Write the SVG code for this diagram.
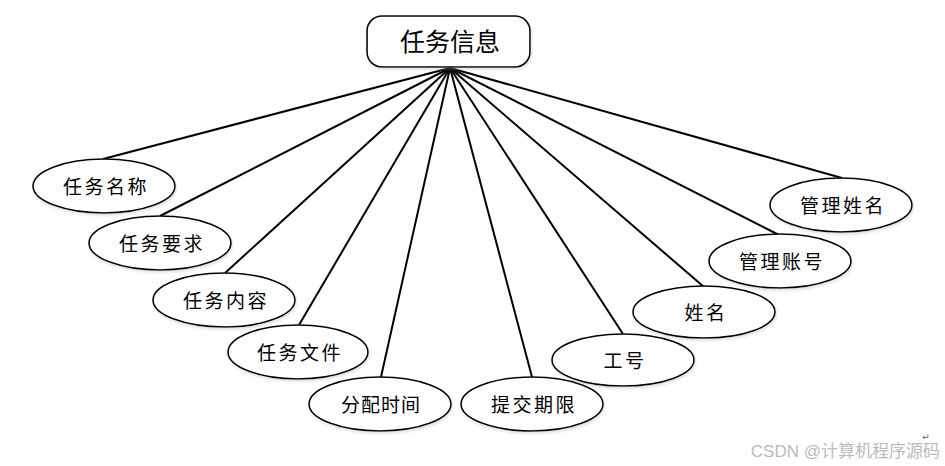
<svg xmlns="http://www.w3.org/2000/svg" width="945" height="466" viewBox="0 0 945 466">
<defs>
<style>
.n{fill:#fff;stroke:#000;stroke-width:1.6}
.t{font-family:"Liberation Serif","Noto Sans CJK SC",serif;font-size:19px;fill:#000;text-anchor:middle;dominant-baseline:central;letter-spacing:2.5px}
.c line{stroke:#000;stroke-width:2}
</style>
<filter id="sh" x="-10%" y="-10%" width="120%" height="130%"><feDropShadow dx="1" dy="2" stdDeviation="1.5" flood-color="#9ab" flood-opacity="0.35"/></filter>
</defs>
<rect width="945" height="466" fill="#fff"/>
<g class="c" id="connectors">
<line x1="450" y1="68" x2="103" y2="159"/>
<line x1="450" y1="68" x2="160" y2="216"/>
<line x1="450" y1="68" x2="225" y2="273"/>
<line x1="450" y1="68" x2="299" y2="325"/>
<line x1="450" y1="68" x2="381" y2="377"/>
<line x1="450" y1="68" x2="532" y2="377"/>
<line x1="450" y1="68" x2="623" y2="334"/>
<line x1="450" y1="68" x2="704" y2="287"/>
<line x1="450" y1="68" x2="779" y2="235"/>
<line x1="450" y1="68" x2="842" y2="178"/>
</g>
<g id="root"><rect class="n" filter="url(#sh)" x="367" y="16" width="163" height="51" rx="15"/><text class="t" x="450" y="42" style="font-size:25px;letter-spacing:0">任务信息</text></g>
<g id="a1"><ellipse class="n" filter="url(#sh)" cx="104" cy="186" rx="71" ry="27"/><text class="t" x="106" y="187">任务名称</text></g>
<g id="a2"><ellipse class="n" filter="url(#sh)" cx="160" cy="243" rx="71" ry="27"/><text class="t" x="162" y="244">任务要求</text></g>
<g id="a3"><ellipse class="n" filter="url(#sh)" cx="224" cy="300" rx="71" ry="27"/><text class="t" x="226" y="301">任务内容</text></g>
<g id="a4"><ellipse class="n" filter="url(#sh)" cx="298" cy="352" rx="70" ry="27"/><text class="t" x="300" y="353">任务文件</text></g>
<g id="a5"><ellipse class="n" filter="url(#sh)" cx="380" cy="404" rx="71" ry="27"/><text class="t" x="381" y="405" style="letter-spacing:1px">分配时间</text></g>
<g id="a6"><ellipse class="n" filter="url(#sh)" cx="532" cy="404" rx="71" ry="27"/><text class="t" x="534" y="405">提交期限</text></g>
<g id="a7"><ellipse class="n" filter="url(#sh)" cx="623" cy="360" rx="71" ry="26"/><text class="t" x="625" y="361">工号</text></g>
<g id="a8"><ellipse class="n" filter="url(#sh)" cx="704" cy="312" rx="71" ry="26"/><text class="t" x="706" y="313">姓名</text></g>
<g id="a9"><ellipse class="n" filter="url(#sh)" cx="780" cy="261" rx="71" ry="27"/><text class="t" x="782" y="262">管理账号</text></g>
<g id="a10"><ellipse class="n" filter="url(#sh)" cx="841" cy="205" rx="71" ry="27"/><text class="t" x="843" y="206">管理姓名</text></g>
<text x="926" y="440" style="font-family:'DejaVu Sans',sans-serif;font-size:9px;fill:#666;text-anchor:middle">↵</text>
<text x="940" y="451" style="font-family:'Liberation Sans','Noto Sans CJK SC',sans-serif;font-size:17px;fill:#bbb;text-anchor:end;dominant-baseline:central">CSDN @计算机程序源码</text>
</svg>
